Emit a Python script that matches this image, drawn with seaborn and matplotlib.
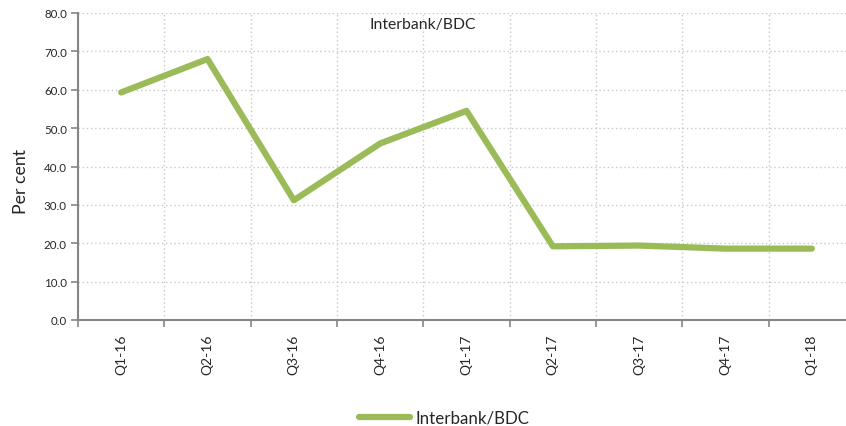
import seaborn as sns
import matplotlib.pyplot as plt
from matplotlib.ticker import FixedLocator
import numpy as np
import pandas as pd

quarters = ["Q1-16", "Q2-16", "Q3-16", "Q4-16", "Q1-17", "Q2-17", "Q3-17", "Q4-17", "Q1-18"]
interbank_bdc = [59.3, 68.0, 31.2, 46.0, 54.5, 19.2, 19.4, 18.6, 18.6]

df = pd.DataFrame({"quarter": quarters, "value": interbank_bdc})

sns.set_style("white")
plt.rcParams['font.family'] = ['Lato', 'DejaVu Sans']

fig = plt.figure(figsize=(8.46, 4.27), dpi=100)
ax = fig.add_axes([78 / 846, 1 - 321 / 427, (855 - 78) / 846, (321 - 14) / 427])

sns.lineplot(data=df, x="quarter", y="value", ax=ax, color="#9BBB59",
             linewidth=4.5, label="Interbank/BDC", sort=False)

ax.set_ylim(0, 80)
ax.set_yticks(np.arange(0, 81, 10))
ax.set_yticklabels([f"{v:.1f}" for v in np.arange(0, 81, 10)], fontsize=8.3)
ax.set_xlim(-0.5, len(quarters) - 0.5)
ax.set_xticks(range(len(quarters)))
ax.set_xticklabels(quarters, rotation=90, fontsize=10)
ax.xaxis.set_minor_locator(FixedLocator(np.arange(-0.5, len(quarters), 1.0)))

ax.tick_params(axis="x", which="major", bottom=False, length=0, pad=10)
ax.tick_params(axis="x", which="minor", bottom=True, length=5, width=1.2, color="#868686", direction="out")
ax.tick_params(axis="y", left=True, length=5, width=1.2, color="#868686", direction="out", pad=3)

ax.grid(axis="y", which="major", linestyle=(0, (1, 2)), color="#c8c8c8", linewidth=1)
ax.grid(axis="x", which="minor", linestyle=(0, (1, 2)), color="#c8c8c8", linewidth=1)
ax.grid(axis="x", which="major", visible=False)

for side in ["top", "right"]:
    ax.spines[side].set_visible(False)
for side in ["left", "bottom"]:
    ax.spines[side].set_color("#868686")
    ax.spines[side].set_linewidth(1.5)

ax.set_xlabel("")
ax.set_ylabel("Per cent", fontsize=12.8)
ax.yaxis.set_label_coords((29 - 78) / 777, (321 - 181) / 307)
fig.text(0.5, 1 - 25 / 427, "Interbank/BDC", ha="center", va="center", fontsize=11.3)

ax.get_legend().remove()
handles, labels = ax.get_legend_handles_labels()
fig.legend(handles, labels, loc="center", bbox_to_anchor=(444 / 846, 1 - 419 / 427),
           frameon=False, fontsize=12.2, handlelength=3.0, handletextpad=0.3)

fig.savefig("out.png", dpi=100)
